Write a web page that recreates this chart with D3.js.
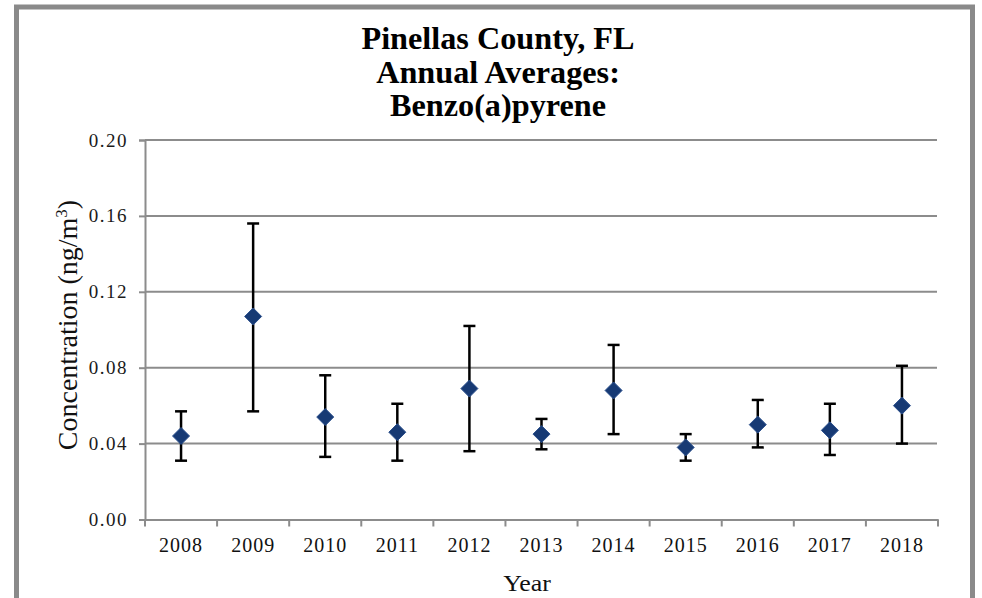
<!DOCTYPE html>
<html>
<head>
<meta charset="utf-8">
<script src="https://cdn.jsdelivr.net/npm/d3@7"></script>
<style>
  html, body { margin: 0; padding: 0; background: #fff; }
  svg { display: block; }
</style>
</head>
<body>
<script>
// ---- data ----
const years = ["2008","2009","2010","2011","2012","2013","2014","2015","2016","2017","2018"];
const means = [0.044, 0.107, 0.054, 0.046, 0.069, 0.045, 0.068, 0.038, 0.050, 0.047, 0.060];
const upper = [0.057, 0.156, 0.076, 0.061, 0.102, 0.053, 0.092, 0.045, 0.063, 0.061, 0.081];
const lower = [0.031, 0.057, 0.033, 0.031, 0.036, 0.037, 0.045, 0.031, 0.038, 0.034, 0.040];
const yTicks = [0, 0.04, 0.08, 0.12, 0.16, 0.20];
const titleLines = ["Pinellas County, FL", "Annual Averages:", "Benzo(a)pyrene"];

const W = 982, H = 598;
const svg = d3.select("body").append("svg").attr("width", W).attr("height", H);

// frame
svg.append("rect").attr("x", 16.5).attr("y", 7).attr("width", 956).attr("height", 620)
  .attr("fill", "#fff").attr("stroke", "#8a8a8a").attr("stroke-width", 5);

const pL = 145, pR = 938, pT = 140, pB = 519.5;
const x = d3.scaleBand().domain(years).range([pL, pR]);
const y = d3.scaleLinear().domain([0, 0.20]).range([pB, pT]);
const gridColor = "#8c8c8c";

// gridlines
svg.append("g").selectAll("line").data(yTicks.filter(d => d > 0)).join("line")
  .attr("x1", pL).attr("x2", pR - 1)
  .attr("y1", d => y(d)).attr("y2", d => y(d))
  .attr("stroke", gridColor).attr("stroke-width", 2);

// y axis
const yAxis = svg.append("g").attr("transform", `translate(${pL},0)`)
  .call(d3.axisLeft(y).tickValues(yTicks).tickFormat(d3.format(".2f")).tickSize(6).tickPadding(13));
yAxis.select(".domain").attr("stroke", gridColor).attr("stroke-width", 2);
yAxis.selectAll(".tick line").attr("stroke", gridColor).attr("stroke-width", 2);
yAxis.selectAll(".tick text").attr("font-family", "'Liberation Serif', serif")
  .attr("font-size", 19).attr("fill", "#1a1a1a").attr("letter-spacing", "1.5px").attr("dx", "2");

// x axis
const xAxis = svg.append("g").attr("transform", `translate(0,${pB})`)
  .call(d3.axisBottom(x).tickSize(0).tickPadding(18));
xAxis.select(".domain").attr("stroke", gridColor).attr("stroke-width", 2);
xAxis.selectAll(".tick text").attr("font-family", "'Liberation Serif', serif")
  .attr("font-size", 20).attr("fill", "#111").attr("letter-spacing", "1px");
// boundary tick marks
const bounds = years.map(d => x(d)).concat([pR]);
svg.append("g").selectAll("line").data(bounds).join("line")
  .attr("x1", d => d).attr("x2", d => d)
  .attr("y1", pB).attr("y2", pB + 7)
  .attr("stroke", gridColor).attr("stroke-width", 2);

// error bars
const eb = svg.append("g").attr("stroke", "#000").attr("stroke-width", 2.5);
const cx = d => x(d) + x.bandwidth() / 2;
years.forEach((yr, i) => {
  const c = cx(yr);
  eb.append("line").attr("x1", c).attr("x2", c).attr("y1", y(upper[i])).attr("y2", y(lower[i]));
  eb.append("line").attr("x1", c - 6).attr("x2", c + 6).attr("y1", y(upper[i])).attr("y2", y(upper[i]));
  eb.append("line").attr("x1", c - 6).attr("x2", c + 6).attr("y1", y(lower[i])).attr("y2", y(lower[i]));
});

// diamonds
const s = 8.5;
svg.append("g").selectAll("path").data(years).join("path")
  .attr("d", (d, i) => {
    const px = cx(d), py = y(means[i]);
    return `M${px},${py - s}L${px + s},${py}L${px},${py + s}L${px - s},${py}Z`;
  })
  .attr("fill", "#173a74").attr("stroke", "#2a4f8c").attr("stroke-width", 1);

// title
const t = svg.append("g");
titleLines.forEach((line, i) => {
  t.append("text").attr("transform", `translate(498,${49 + i * 33.5}) scale(1.04,1.05)`)
    .attr("text-anchor", "middle")
    .attr("font-family", "'Liberation Serif', serif").attr("font-weight", "bold")
    .attr("font-size", 31).attr("fill", "#000").text(line);
});

// axis titles
svg.append("text").attr("transform", `translate(527,591) scale(1.08,1)`)
  .attr("text-anchor", "middle").attr("font-family", "'Liberation Serif', serif")
  .attr("font-size", 24).attr("fill", "#111").text("Year");

const yl = svg.append("text").attr("transform", `translate(77,325) rotate(-90)`)
  .attr("text-anchor", "middle").attr("font-family", "'Liberation Serif', serif")
  .attr("font-size", 28).attr("fill", "#111");
yl.append("tspan").text("Concentration (ng/m");
yl.append("tspan").attr("dy", -10).attr("font-size", 17).text("3");
yl.append("tspan").attr("dy", 10).text(")");
</script>
</body>
</html>
